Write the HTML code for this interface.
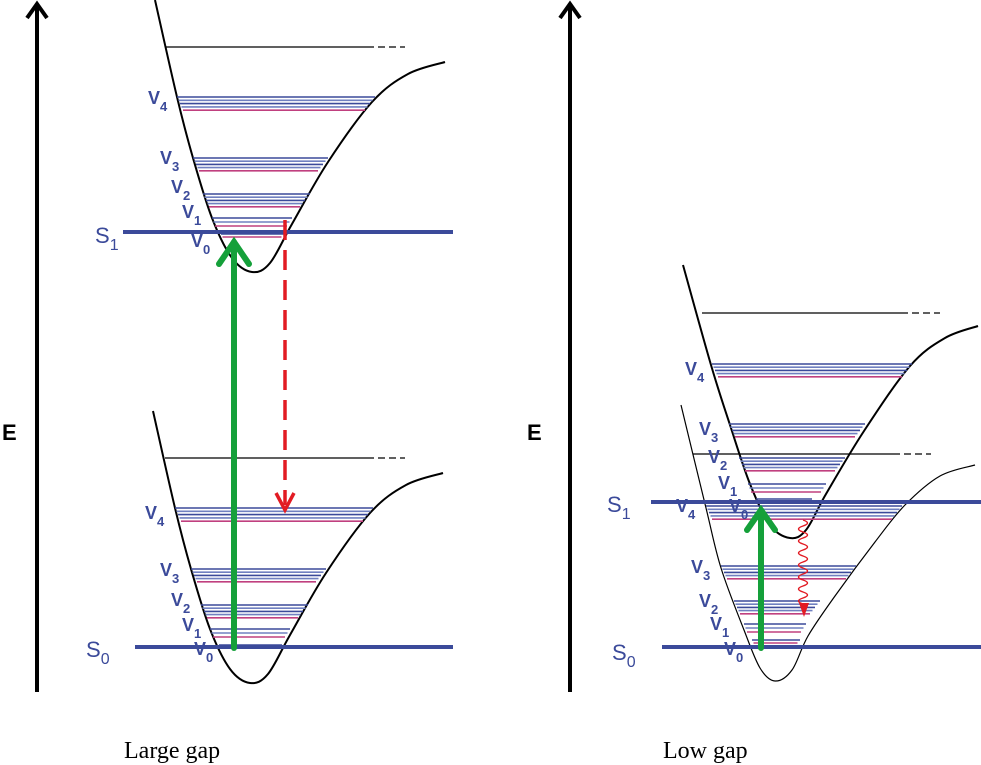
<!DOCTYPE html>
<html><head><meta charset="utf-8"><style>
html,body{margin:0;padding:0;background:#fff;}
svg{display:block;}
.v{font-family:"Liberation Sans",sans-serif;font-weight:bold;fill:#3b4a9a;font-size:18px;}
.vs{font-size:13px;}
.s{font-family:"Liberation Sans",sans-serif;fill:#3b4a9a;font-size:22px;}
.ss{font-size:16px;}
</style></head><body>
<svg id="s" width="981" height="765" viewBox="0 0 981 765" xmlns="http://www.w3.org/2000/svg">
<g stroke="#000" stroke-width="4" fill="none">
<line x1="37" y1="692" x2="37" y2="6"/><polyline points="27,18 37,4 47,18"/>
<line x1="570" y1="692" x2="570" y2="6"/><polyline points="560,18 570,4 580,18"/>
</g>
<text x="2" y="440" font-family="Liberation Sans" font-weight="bold" font-size="22">E</text>
<text x="527" y="440" font-family="Liberation Sans" font-weight="bold" font-size="22">E</text>
<g id="curves" fill="none" stroke="#000"></g>
<g id="levels"></g>
<g stroke="#000" stroke-width="1.3">
<line x1="165" y1="47" x2="367" y2="47"/><line x1="367" y1="47" x2="405" y2="47" stroke-dasharray="7,4"/>
<line x1="165" y1="458" x2="367" y2="458"/><line x1="367" y1="458" x2="405" y2="458" stroke-dasharray="7,4"/>
<line x1="702" y1="313" x2="901" y2="313"/><line x1="901" y1="313" x2="940" y2="313" stroke-dasharray="7,4"/>
<line x1="693" y1="454" x2="893" y2="454"/><line x1="893" y1="454" x2="931" y2="454" stroke-dasharray="7,4"/>
</g>
<g stroke="#3b4a9a" stroke-width="4">
<line x1="123" y1="232" x2="453" y2="232"/>
<line x1="135" y1="647" x2="453" y2="647"/>
<line x1="651" y1="502" x2="981" y2="502"/>
<line x1="662" y1="647" x2="981" y2="647"/>
</g>
<g stroke="#15a03a" stroke-width="6" fill="none" stroke-linecap="round">
<line x1="234" y1="648" x2="234" y2="242"/><polyline points="219,264 234,242 249,264"/>
<line x1="761" y1="648" x2="761" y2="510"/><polyline points="747,530 761,510 775,530"/>
</g>
<g stroke="#e21b23" stroke-width="3.5" fill="none">
<line x1="285" y1="220" x2="285" y2="505" stroke-dasharray="20,10"/>
<polyline points="276,493 285,510 294,493"/>
<path id="wave" stroke-width="1.4"/>
<polygon points="799,603 809,603 804,617" fill="#e21b23" stroke="none"/>
</g>
<text class="v" x="148" y="104">V<tspan class="vs" dy="7">4</tspan></text>
<text class="v" x="160" y="164">V<tspan class="vs" dy="7">3</tspan></text>
<text class="v" x="171" y="193">V<tspan class="vs" dy="7">2</tspan></text>
<text class="v" x="182" y="218">V<tspan class="vs" dy="7">1</tspan></text>
<text class="v" x="191" y="247">V<tspan class="vs" dy="7">0</tspan></text>
<text class="s" x="95" y="243">S<tspan class="ss" dy="7">1</tspan></text>
<text class="v" x="145" y="519">V<tspan class="vs" dy="7">4</tspan></text>
<text class="v" x="160" y="576">V<tspan class="vs" dy="7">3</tspan></text>
<text class="v" x="171" y="606">V<tspan class="vs" dy="7">2</tspan></text>
<text class="v" x="182" y="631">V<tspan class="vs" dy="7">1</tspan></text>
<text class="v" x="194" y="655">V<tspan class="vs" dy="7">0</tspan></text>
<text class="s" x="86" y="657">S<tspan class="ss" dy="7">0</tspan></text>
<text class="v" x="685" y="375">V<tspan class="vs" dy="7">4</tspan></text>
<text class="v" x="699" y="435">V<tspan class="vs" dy="7">3</tspan></text>
<text class="v" x="708" y="463">V<tspan class="vs" dy="7">2</tspan></text>
<text class="v" x="718" y="489">V<tspan class="vs" dy="7">1</tspan></text>
<text class="v" x="729" y="512">V<tspan class="vs" dy="7">0</tspan></text>
<text class="s" x="607" y="512">S<tspan class="ss" dy="7">1</tspan></text>
<text class="v" x="676" y="512">V<tspan class="vs" dy="7">4</tspan></text>
<text class="v" x="691" y="573">V<tspan class="vs" dy="7">3</tspan></text>
<text class="v" x="699" y="607">V<tspan class="vs" dy="7">2</tspan></text>
<text class="v" x="710" y="630">V<tspan class="vs" dy="7">1</tspan></text>
<text class="v" x="724" y="655">V<tspan class="vs" dy="7">0</tspan></text>
<text class="s" x="612" y="660">S<tspan class="ss" dy="7">0</tspan></text>
<text x="124" y="758" font-family="Liberation Serif" font-size="24">Large gap</text>
<text x="663" y="758" font-family="Liberation Serif" font-size="24">Low gap</text>
</svg>
<script>
(function(){
function cr(p){var d="M"+p[0][0]+","+p[0][1];for(var i=0;i<p.length-1;i++){var p0=p[i-1]||p[i],p1=p[i],p2=p[i+1],p3=p[i+2]||p2;
d+=" C"+(p1[0]+(p2[0]-p0[0])/6)+","+(p1[1]+(p2[1]-p0[1])/6)+" "+(p2[0]-(p3[0]-p1[0])/6)+","+(p2[1]-(p3[1]-p1[1])/6)+" "+p2[0]+","+p2[1];}return d;}
var C=document.getElementById('curves'),L=document.getElementById('levels'),NS="http://www.w3.org/2000/svg";
function curve(pts,dy,dx,w){var p=pts.map(function(q){return [q[0]+dx,q[1]+dy]});var e=document.createElementNS(NS,'path');e.setAttribute('d',cr(p));e.setAttribute('stroke-width',w);C.appendChild(e);}
var topC=[[155,0],[177,97],[193,158],[212,218],[232,258],[252,272],[270,263],[292,224],[328,162],[372,102],[408,74],[445,62]];
curve(topC,0,0,2);curve(topC,411,-2,2);
var rt=[[683,265],[711,365],[730,425],[750,484],[770,525],[790,538],[806,530],[826,494],[864,431],[910,366],[945,338],[978,326]];
curve(rt,0,0,2);
var rb=[[681,405],[706,508],[721,568],[744,630],[760,668],[775,681],[792,670],[808,636],[835,596],[875,542],[905,505],[940,476],[975,465]];
curve(rb,0,0,1.2);
function grp(y,x1,x2,n,sp){for(var i=0;i<n;i++){var l=document.createElementNS(NS,'line');var yy=y+i*sp;var last=i==n-1;
l.setAttribute('x1',x1+i*1.5);l.setAttribute('x2',x2-i*2.5);l.setAttribute('y1',yy);l.setAttribute('y2',yy);
l.setAttribute('stroke',last?'#c0407f':(i%2?'#7080c0':'#3b4a9a'));l.setAttribute('stroke-width',1.6);L.appendChild(l);}}
function well(o,dx){grp(97+o,177+dx,375+dx,5,3.3);grp(158+o,193+dx,328+dx,5,3.2);grp(194+o,203+dx,310+dx,5,3.2);grp(218+o,212+dx,292+dx,3,4);grp(234+o,221+dx,284+dx,2,3);}
well(0,0);well(411,-2);
grp(364,712,912,5,3.2);grp(424,729,865,5,3.2);grp(458,739,845,5,3.2);grp(484,748,826,3,4);grp(499,756,812,2,3);
grp(506,706,902,5,3.3);grp(566,721,856,5,3.2);grp(601,734,820,5,3.2);grp(624,744,806,3,4);grp(640,752,800,2,3);
var d="M803,520";var s=1;for(var y=520;y<602;y+=6){d+=" q"+(s*9)+",3 0,6";s=-s;}
document.getElementById('wave').setAttribute('d',d);
})();
</script>
</body></html>
